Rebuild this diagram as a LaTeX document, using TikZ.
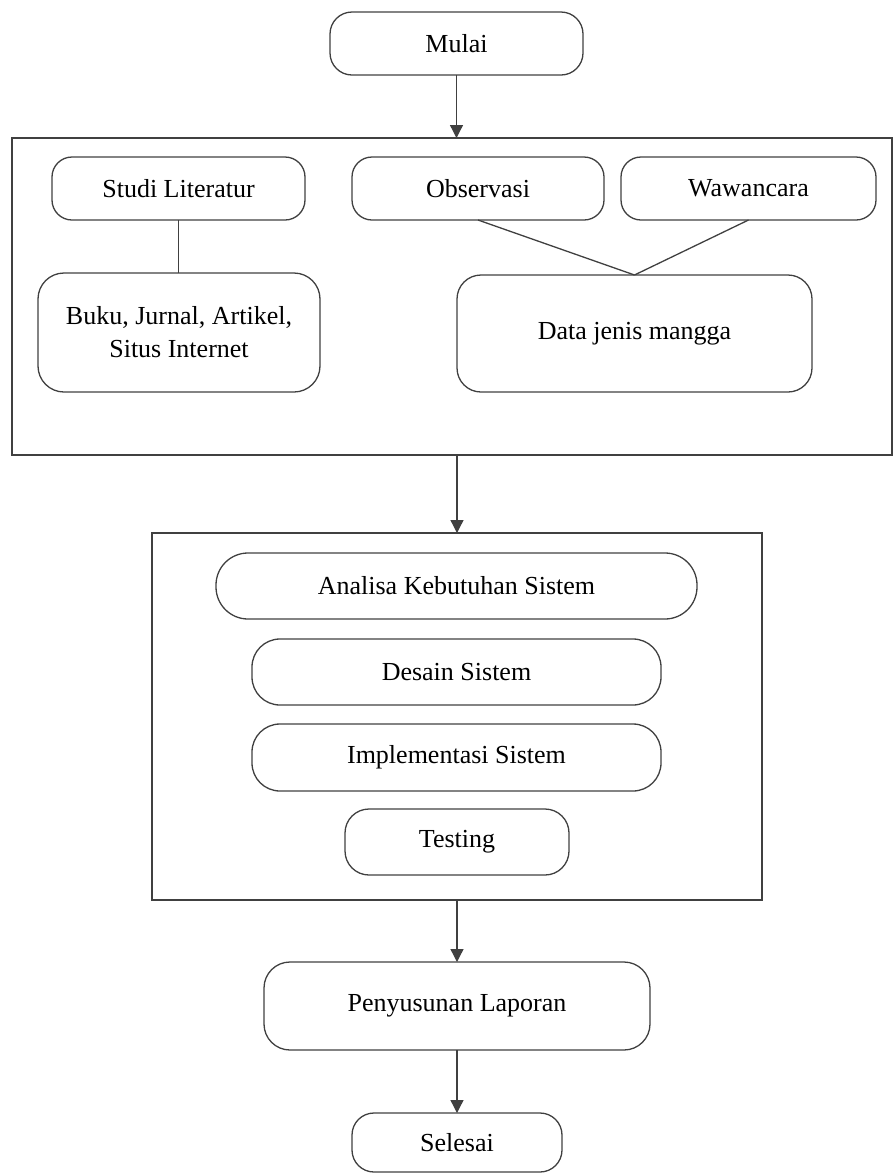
\documentclass[tikz,border=0pt]{standalone}
\usepackage{fontspec}
\setmainfont{Liberation Serif}
\usetikzlibrary{arrows.meta}
\definecolor{edge}{HTML}{404040}
\tikzset{
  every node/.style={inner sep=0pt, outer sep=0pt},
  stage/.style={draw=edge, line width=1.3pt, rounded corners=#1, align=center,
    font=\fontsize{26}{33}\selectfont, text=black},
  stage/.default=20pt,
  frame/.style={draw=edge, line width=1.3pt},
  flow/.style={draw=edge, line width=1.3pt, -{Triangle[width=13pt,length=13pt]}},
  link/.style={draw=edge, line width=1.3pt}
}
\begin{document}
\begin{tikzpicture}[x=1pt, y=-1pt]
  \useasboundingbox (0,0) rectangle (893,1176);

  % start
  \node[stage=22pt, minimum width=253pt, minimum height=63pt] (mulai) at (456.5,43.5) {Mulai};

  % data collection stage
  \node[frame, minimum width=880pt, minimum height=317pt] (kumpul) at (452,296.5) {};
  \node[stage, minimum width=253pt, minimum height=63pt] (studi) at (178.5,188.5) {Studi Literatur};
  \node[stage, minimum width=252pt, minimum height=63pt] (obs) at (478,188.5) {Observasi};
  \node[stage, minimum width=255pt, minimum height=63pt] (waw) at (748.5,188.5) {Wawancara};
  \node[stage=26pt, minimum width=282pt, minimum height=119pt] (buku) at (179,332.5)
    {Buku, Jurnal, Artikel,\\Situs Internet};
  \node[stage=24pt, minimum width=355pt, minimum height=117pt] (data) at (634.5,333.5) {Data jenis mangga};

  % development stage
  \node[frame, minimum width=610pt, minimum height=367pt] (kembang) at (457,716.5) {};
  \node[stage=32pt, minimum width=481pt, minimum height=66pt] (analisa) at (456.5,586) {Analisa Kebutuhan Sistem};
  \node[stage=28pt, minimum width=409pt, minimum height=66pt] (desain) at (456.5,672) {Desain Sistem};
  \node[stage=28pt, minimum width=409pt, minimum height=67pt] (impl) at (456.5,757.5) {Implementasi Sistem};
  \node[stage=24pt, minimum width=224pt, minimum height=66pt] (testing) at (457,842) {Testing};

  % reporting and end
  \node[stage=26pt, minimum width=386pt, minimum height=88pt] (laporan) at (457,1006) {Penyusunan Laporan};
  \node[stage=22pt, minimum width=210pt, minimum height=59pt] (selesai) at (457,1142.5) {Selesai};

  % connectors
  \draw[flow] (mulai.south) -- (mulai.south |- kumpul.north);
  \draw[link] (studi.south) -- (studi.south |- buku.north);
  \draw[link] (obs.south) -- (data.north);
  \draw[link] (waw.south) -- (data.north);
  \draw[flow] (kembang.north |- kumpul.south) -- (kembang.north);
  \draw[flow] (kembang.south) -- (laporan.north);
  \draw[flow] (laporan.south) -- (selesai.north);
\end{tikzpicture}
\end{document}
